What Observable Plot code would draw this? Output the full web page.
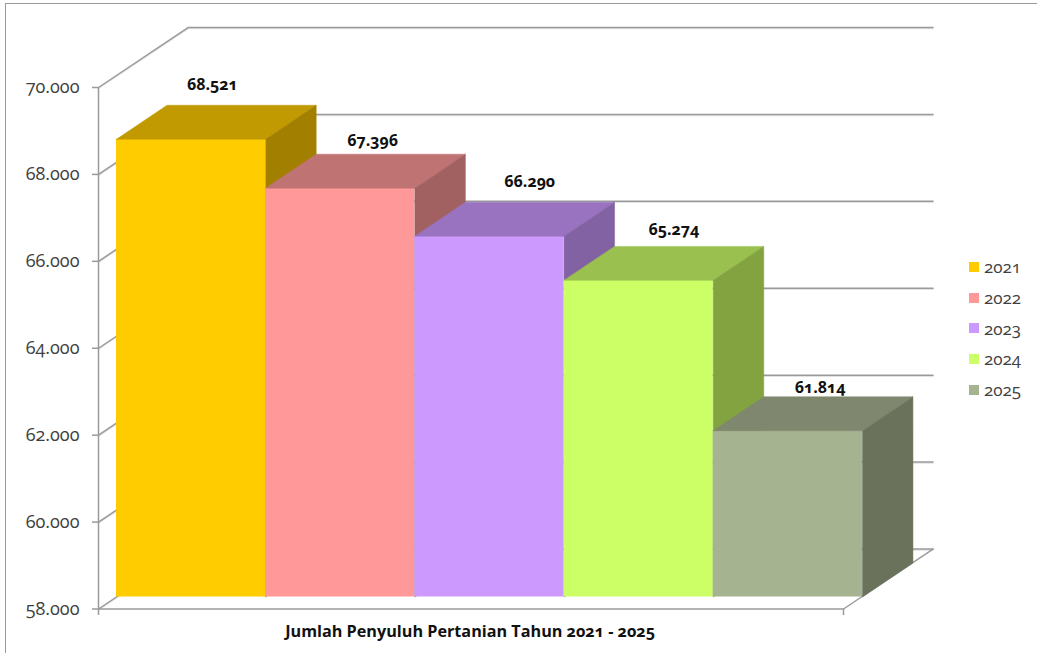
<!DOCTYPE html>
<html>
<head>
<meta charset="utf-8">
<script src="https://cdn.jsdelivr.net/npm/d3@7"></script>
<script src="https://cdn.jsdelivr.net/npm/@observablehq/plot@0.6"></script>
<style>
  html, body { margin: 0; padding: 0; background: #fff; width: 1037px; height: 653px; overflow: hidden; }
  body { position: relative; font-family: "Open Sans", "Noto Sans", sans-serif; font-feature-settings: "onum" 1; font-variant-numeric: oldstyle-nums; }
  #frame { position: absolute; left: 5px; top: 3px; right: 0; bottom: 0; border-left: 1.2px solid #9a9a9a; border-top: 1.2px solid #9a9a9a; }
  #chart { position: absolute; left: 0; top: 0; }
  #chart svg { font-feature-settings: "onum" 1; font-variant-numeric: oldstyle-nums; }
  #legend { position: absolute; left: 969px; top: 256px; display: flex; flex-direction: column; row-gap: 9.3px; font-size: 17px; line-height: 21.5px; color: #404040; }
  #legend div { display: flex; align-items: center; column-gap: 5px; }
  #legend i { display: block; width: 10px; height: 10px; }
</style>
</head>
<body>
<div id="frame"></div>
<div id="chart"></div>
<div id="legend"></div>
<script>
const years = ["2021", "2022", "2023", "2024", "2025"];
const values = [68521, 67396, 66290, 65274, 61814];
const frontColors = ["#FFCC00", "#FF9999", "#CC99FF", "#CCFF66", "#A6B391"];
const topColors = ["#C09A00", "#C07373", "#9A73C0", "#9AC050", "#7F886E"];
const sideColors = ["#A37F00", "#A26161", "#8262A3", "#82A340", "#6A725C"];
const yTicks = [58000, 60000, 62000, 64000, 66000, 68000, 70000];
const axisTitle = "Jumlah Penyuluh Pertanian Tahun 2021 - 2025";

// Oblique projection, in scale units
const xStart = -0.1206, xEnd = 4.873;
const wallDx = 0.6, wallDy = 1380;
const barDx = 0.3385, barDy = 782;
const barBase = 58276, barLift = 288;

const fmt = d => d3.format(",")(d).replace(/,/g, ".");

const bars = years.map((year, i) => ({
  year, i, value: values[i], x1: i, x2: i + 1, top: values[i] + barLift,
  front: frontColors[i], topFace: topColors[i], side: sideColors[i]
}));

const grid = yTicks.flatMap(t => [
  {t, x: xStart, y: t},
  {t, x: xStart + wallDx, y: t + wallDy},
  {t, x: xEnd + wallDx, y: t + wallDy}
]);
const floorEdge = [
  {x: xStart, y: 58000}, {x: xEnd, y: 58000}, {x: xEnd + wallDx, y: 58000 + wallDy}
];

function faces(b) {
  return [
    {id: "top", fill: b.topFace, x: b.x1, y: b.top},
    {id: "top", fill: b.topFace, x: b.x1 + barDx, y: b.top + barDy},
    {id: "top", fill: b.topFace, x: b.x2 + barDx, y: b.top + barDy},
    {id: "top", fill: b.topFace, x: b.x2, y: b.top},
    {id: "top", fill: b.topFace, x: b.x1, y: b.top},
    {id: "side", fill: b.side, x: b.x2, y: b.top},
    {id: "side", fill: b.side, x: b.x2 + barDx, y: b.top + barDy},
    {id: "side", fill: b.side, x: b.x2 + barDx, y: barBase + barDy},
    {id: "side", fill: b.side, x: b.x2, y: barBase},
    {id: "side", fill: b.side, x: b.x2, y: b.top}
  ];
}

const labelNudge = [[-4, 0], [7, 0], [15, 0], [10, 0], [7, 0]];
const labelLift = [20, 13, 20, 17, 9];

const chart = Plot.plot({
  width: 1037, height: 653,
  marginLeft: 98, marginRight: 194, marginTop: 87, marginBottom: 44.5,
  style: {background: "transparent", overflow: "visible", fontFamily: "'Open Sans', 'Noto Sans', sans-serif"},
  x: {domain: [xStart, xEnd], axis: null},
  y: {domain: [58000, 70000]},
  marks: [
    Plot.line(grid, {x: "x", y: "y", z: "t", stroke: "#e2e2e2", strokeWidth: 1.5, dy: 1}),
    Plot.line(grid, {x: "x", y: "y", z: "t", stroke: "#9a9a9a", strokeWidth: 1.5}),
    Plot.line(floorEdge, {x: "x", y: "y", stroke: "#9a9a9a", strokeWidth: 1.5}),
    Plot.ruleX([xStart], {y1: 57850, y2: 70000, stroke: "#9a9a9a", strokeWidth: 1.5}),
    Plot.ruleX([xEnd], {y1: 57850, y2: 58000, stroke: "#9a9a9a", strokeWidth: 1.5}),
    Plot.axisY({
      ticks: yTicks, tickFormat: fmt, label: null, tickSize: 6, tickPadding: 13,
      fontSize: 18, stroke: "#9a9a9a", fill: "#404040", strokeWidth: 1.5
    }),
    ...bars.flatMap(b => [
      Plot.rect([b], {x1: "x1", x2: "x2", y1: barBase, y2: "top", fill: "front"}),
      Plot.line(faces(b), {x: "x", y: "y", z: "id", fill: "fill", stroke: "fill", strokeWidth: 0.5})
    ]),
    ...bars.map((b, i) => Plot.text([b], {
      x: d => d.x1 + 0.5 + barDx / 2,
      y: d => d.top + barDy,
      text: d => fmt(d.value),
      dx: labelNudge[i][0],
      dy: -labelLift[i],
      fontSize: 16, fontWeight: 700, fill: "#111"
    })),
    Plot.text([axisTitle], {
      x: () => 2.37, y: () => 57480, text: d => d,
      fontSize: 16.2, fontWeight: 700, fill: "#111"
    })
  ]
});
document.getElementById("chart").appendChild(chart);

const legend = document.getElementById("legend");
years.forEach((y, i) => {
  const row = document.createElement("div");
  const sw = document.createElement("i");
  sw.style.background = frontColors[i];
  const t = document.createElement("span");
  t.textContent = y;
  row.append(sw, t);
  legend.append(row);
});
</script>
</body>
</html>
